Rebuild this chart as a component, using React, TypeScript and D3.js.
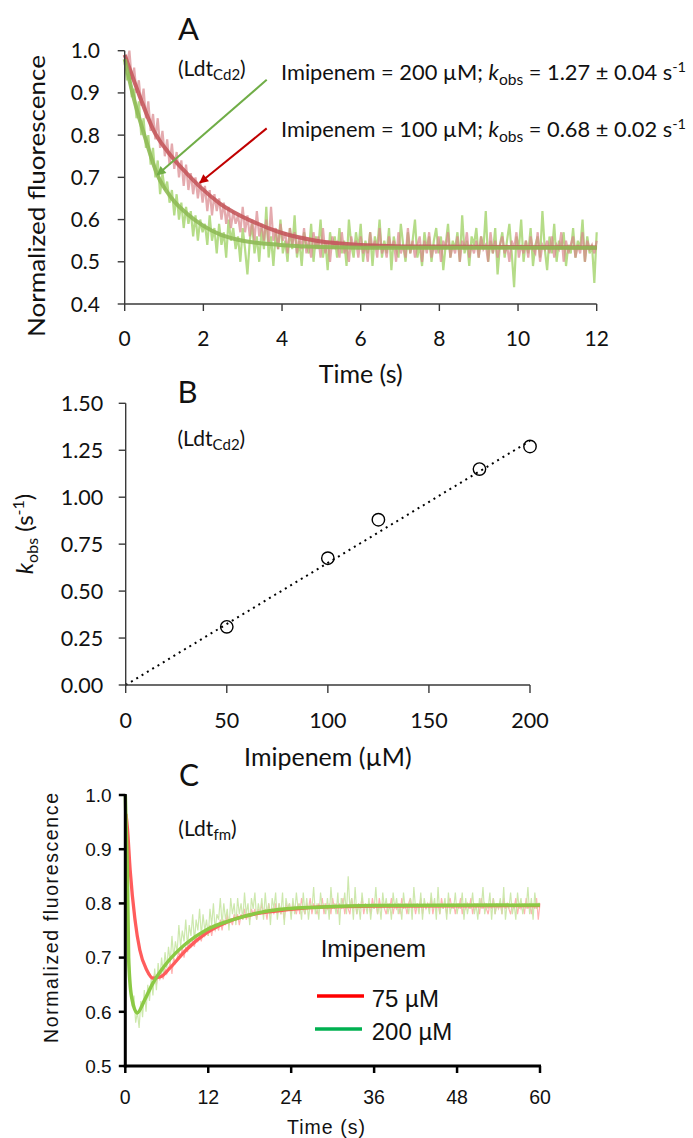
import React from "react";
import * as d3 from "d3";

const width = 693;
const height = 1138;
const fontA = "Lato, 'Open Sans', sans-serif";
const fontC = "'Liberation Sans', Arial, sans-serif";

// ---- panel A: LdtCd2 stopped-flow traces (0..12 s, one sample every 0.06 s)
const aTicksX = [0, 2, 4, 6, 8, 10, 12];
const aTicksY = [0.4, 0.5, 0.6, 0.7, 0.8, 0.9, 1.0];
const aStep = 0.06;
const aGreenRaw = [
  0.97, 0.93, 0.95, 0.89, 0.91, 0.84, 0.88, 0.80, 0.84, 0.77,
  0.80, 0.73, 0.77, 0.70, 0.74, 0.66, 0.71, 0.67, 0.69, 0.64,
  0.67, 0.61, 0.66, 0.60, 0.64, 0.58, 0.63, 0.59, 0.62, 0.56,
  0.61, 0.55, 0.60, 0.57, 0.59, 0.54, 0.61, 0.55, 0.58, 0.52,
  0.59, 0.54, 0.57, 0.51, 0.60, 0.55, 0.58, 0.53, 0.56, 0.50,
  0.58, 0.53, 0.47, 0.55, 0.59, 0.52, 0.56, 0.50, 0.58, 0.53,
  0.63, 0.51, 0.56, 0.49, 0.57, 0.53, 0.60, 0.52, 0.55, 0.50,
  0.58, 0.53, 0.61, 0.51, 0.55, 0.49, 0.57, 0.54, 0.52, 0.59,
  0.50, 0.56, 0.53, 0.60, 0.51, 0.55, 0.48, 0.57, 0.53, 0.56,
  0.51, 0.58, 0.52, 0.55, 0.49, 0.60, 0.54, 0.51, 0.57, 0.53,
  0.59, 0.50, 0.55, 0.52, 0.57, 0.49, 0.56, 0.53, 0.60, 0.51,
  0.55, 0.52, 0.58, 0.48, 0.56, 0.53, 0.51, 0.59, 0.54, 0.50,
  0.57, 0.52, 0.55, 0.60, 0.51, 0.54, 0.49, 0.57, 0.53, 0.56,
  0.50, 0.55, 0.58, 0.52, 0.56, 0.48, 0.54, 0.59, 0.51, 0.55,
  0.53, 0.57, 0.50, 0.61, 0.52, 0.55, 0.49, 0.56, 0.54, 0.58,
  0.51, 0.56, 0.53, 0.62, 0.50, 0.55, 0.52, 0.58, 0.47, 0.54,
  0.57, 0.51, 0.55, 0.59, 0.52, 0.44, 0.56, 0.53, 0.60, 0.50,
  0.55, 0.52, 0.58, 0.49, 0.54, 0.56, 0.51, 0.62, 0.53, 0.48,
  0.56, 0.52, 0.59, 0.50, 0.55, 0.53, 0.57, 0.49, 0.54, 0.52,
  0.58, 0.51, 0.55, 0.53, 0.60, 0.50, 0.56, 0.52, 0.54, 0.45,
  0.57,
];
const aRedRaw = [
  0.99, 0.97, 1.00, 0.93, 0.96, 0.90, 0.93, 0.87, 0.91, 0.84,
  0.88, 0.81, 0.85, 0.79, 0.84, 0.77, 0.81, 0.75, 0.79, 0.73,
  0.78, 0.72, 0.76, 0.70, 0.74, 0.68, 0.73, 0.67, 0.71, 0.66,
  0.70, 0.65, 0.69, 0.64, 0.68, 0.62, 0.67, 0.61, 0.66, 0.62,
  0.65, 0.60, 0.64, 0.59, 0.63, 0.58, 0.62, 0.59, 0.61, 0.57,
  0.63, 0.57, 0.61, 0.56, 0.60, 0.55, 0.62, 0.56, 0.59, 0.55,
  0.60, 0.54, 0.63, 0.55, 0.58, 0.53, 0.59, 0.55, 0.57, 0.52,
  0.58, 0.54, 0.57, 0.52, 0.56, 0.53, 0.58, 0.52, 0.55, 0.51,
  0.57, 0.53, 0.56, 0.51, 0.58, 0.52, 0.55, 0.50, 0.56, 0.53,
  0.55, 0.51, 0.57, 0.52, 0.54, 0.50, 0.56, 0.53, 0.55, 0.51,
  0.56, 0.52, 0.54, 0.50, 0.57, 0.53, 0.55, 0.51, 0.58, 0.52,
  0.54, 0.51, 0.56, 0.53, 0.55, 0.50, 0.57, 0.52, 0.54, 0.51,
  0.58, 0.52, 0.55, 0.51, 0.54, 0.56, 0.50, 0.55, 0.52, 0.57,
  0.51, 0.54, 0.52, 0.56, 0.50, 0.55, 0.53, 0.57, 0.51, 0.54,
  0.52, 0.56, 0.50, 0.55, 0.53, 0.57, 0.51, 0.54, 0.52, 0.55,
  0.51, 0.56, 0.53, 0.54, 0.50, 0.57, 0.52, 0.55, 0.51, 0.54,
  0.56, 0.52, 0.54, 0.50, 0.55, 0.53, 0.57, 0.51, 0.54, 0.52,
  0.55, 0.51, 0.56, 0.53, 0.52, 0.57, 0.50, 0.54, 0.53, 0.55,
  0.52, 0.56, 0.51, 0.54, 0.53, 0.57, 0.50, 0.55, 0.52, 0.54,
  0.56, 0.51, 0.54, 0.52, 0.57, 0.50, 0.55, 0.53, 0.54, 0.52,
  0.55,
];
// fitted single exponentials as [time, value]
const aGreenFit: [number, number][] = [
  [0, 0.98], [0.25, 0.88], [0.5, 0.8], [0.83, 0.706], [1.2, 0.65], [1.57, 0.615],
  [2.0, 0.585], [2.42, 0.565], [3.0, 0.55], [3.94, 0.54], [5, 0.535], [7, 0.533], [12, 0.533],
];
const aRedFit: [number, number][] = [
  [0, 0.99], [0.35, 0.9], [0.73, 0.812], [1.1, 0.76], [1.57, 0.71], [1.91, 0.678],
  [2.42, 0.638], [3.26, 0.595], [3.94, 0.57], [4.87, 0.55], [6.0, 0.54], [7.5, 0.536], [12, 0.534],
];
// arrows: [from, to] in data units
const aGreenArrow: [number, number][] = [[3.61, 0.931], [0.83, 0.706]];
const aRedArrow: [number, number][] = [[3.61, 0.816], [1.91, 0.687]];

// ---- panel B: kobs vs imipenem
const bTicksX = [0, 50, 100, 150, 200];
const bTicksY = [0, 0.25, 0.5, 0.75, 1.0, 1.25, 1.5];
const bConc = [50, 100, 125, 175, 200];
const bKobs = [0.31, 0.675, 0.88, 1.15, 1.27];
const bTrend: [number, number][] = [[0, 0], [200, 1.3]];

// ---- panel C: Ldtfm traces (0..60 s, one sample every 0.25 s)
const cTicksX = [0, 12, 24, 36, 48, 60];
const cTicksY = [0.5, 0.6, 0.7, 0.8, 0.9, 1.0];
const cStep = 0.25;
const cRedRaw = [
  0.93, 0.95, 0.90, 0.86, 0.82, 0.79, 0.77, 0.74,
  0.72, 0.71, 0.69, 0.69, 0.68, 0.67, 0.67, 0.66,
  0.66, 0.67, 0.65, 0.67, 0.66, 0.67, 0.66, 0.68,
  0.67, 0.68, 0.69, 0.67, 0.70, 0.69, 0.70, 0.71,
  0.70, 0.72, 0.70, 0.72, 0.71, 0.73, 0.72, 0.73,
  0.72, 0.74, 0.73, 0.74, 0.73, 0.75, 0.74, 0.75,
  0.74, 0.76, 0.74, 0.76, 0.75, 0.76, 0.75, 0.77,
  0.75, 0.77, 0.76, 0.78, 0.76, 0.77, 0.76, 0.78,
  0.77, 0.78, 0.76, 0.78, 0.77, 0.79, 0.77, 0.78,
  0.77, 0.79, 0.78, 0.79, 0.77, 0.79, 0.78, 0.80,
  0.78, 0.79, 0.77, 0.80, 0.78, 0.79, 0.78, 0.80,
  0.78, 0.80, 0.78, 0.79, 0.77, 0.80, 0.79, 0.80,
  0.78, 0.80, 0.79, 0.78, 0.80, 0.78, 0.81, 0.79,
  0.78, 0.80, 0.79, 0.81, 0.78, 0.80, 0.79, 0.78,
  0.80, 0.79, 0.81, 0.78, 0.80, 0.79, 0.80, 0.78,
  0.81, 0.79, 0.80, 0.78, 0.80, 0.79, 0.81, 0.78,
  0.80, 0.79, 0.78, 0.81, 0.79, 0.80, 0.78, 0.80,
  0.79, 0.81, 0.78, 0.80, 0.79, 0.80, 0.78, 0.81,
  0.79, 0.80, 0.78, 0.81, 0.79, 0.80, 0.79, 0.78,
  0.80, 0.79, 0.81, 0.78, 0.80, 0.79, 0.80, 0.78,
  0.81, 0.79, 0.80, 0.78, 0.80, 0.81, 0.79, 0.80,
  0.78, 0.80, 0.79, 0.81, 0.78, 0.80, 0.79, 0.80,
  0.79, 0.81, 0.78, 0.80, 0.79, 0.80, 0.78, 0.81,
  0.79, 0.80, 0.78, 0.80, 0.81, 0.79, 0.80, 0.78,
  0.80, 0.79, 0.81, 0.78, 0.80, 0.79, 0.80, 0.79,
  0.81, 0.78, 0.80, 0.79, 0.80, 0.78, 0.81, 0.79,
  0.80, 0.79, 0.78, 0.80, 0.79, 0.81, 0.78, 0.80,
  0.79, 0.80, 0.78, 0.81, 0.79, 0.80, 0.79, 0.78,
  0.80, 0.79, 0.81, 0.78, 0.80, 0.79, 0.80, 0.78,
  0.81, 0.79, 0.80, 0.78, 0.80, 0.79, 0.81, 0.77,
  0.80,
];
const cGreenRaw = [
  0.99, 0.86, 0.71, 0.65, 0.61, 0.63, 0.58, 0.60,
  0.57, 0.62, 0.59, 0.64, 0.60, 0.65, 0.62, 0.66,
  0.63, 0.68, 0.64, 0.69, 0.66, 0.70, 0.67, 0.71,
  0.68, 0.72, 0.69, 0.74, 0.70, 0.73, 0.71, 0.76,
  0.72, 0.75, 0.73, 0.77, 0.72, 0.76, 0.74, 0.78,
  0.73, 0.77, 0.75, 0.79, 0.74, 0.78, 0.75, 0.77,
  0.74, 0.79, 0.76, 0.80, 0.75, 0.78, 0.77, 0.81,
  0.76, 0.80, 0.77, 0.79, 0.75, 0.81, 0.78, 0.80,
  0.76, 0.81, 0.78, 0.80, 0.77, 0.82, 0.78, 0.80,
  0.76, 0.81, 0.79, 0.82, 0.77, 0.80, 0.78, 0.81,
  0.77, 0.82, 0.78, 0.80, 0.76, 0.81, 0.79, 0.82,
  0.77, 0.80, 0.78, 0.82, 0.76, 0.81, 0.79, 0.80,
  0.77, 0.81, 0.78, 0.82, 0.79, 0.80, 0.77, 0.82,
  0.78, 0.81, 0.77, 0.80, 0.79, 0.83, 0.78, 0.80,
  0.77, 0.82, 0.79, 0.80, 0.78, 0.81, 0.77, 0.83,
  0.79, 0.80, 0.78, 0.82, 0.76, 0.81, 0.79, 0.82,
  0.78, 0.85, 0.79, 0.81, 0.77, 0.83, 0.78, 0.80,
  0.77, 0.82, 0.79, 0.80, 0.78, 0.81, 0.77, 0.80,
  0.79, 0.83, 0.78, 0.80, 0.77, 0.82, 0.79, 0.81,
  0.78, 0.80, 0.77, 0.82, 0.79, 0.81, 0.78, 0.80,
  0.77, 0.82, 0.79, 0.80, 0.78, 0.81, 0.77, 0.83,
  0.79, 0.80, 0.78, 0.82, 0.77, 0.81, 0.79, 0.80,
  0.78, 0.82, 0.79, 0.81, 0.77, 0.83, 0.78, 0.80,
  0.79, 0.81, 0.77, 0.82, 0.78, 0.80, 0.79, 0.82,
  0.78, 0.80, 0.79, 0.82, 0.77, 0.81, 0.78, 0.80,
  0.79, 0.82, 0.78, 0.80, 0.77, 0.81, 0.79, 0.83,
  0.78, 0.80, 0.79, 0.82, 0.77, 0.81, 0.78, 0.80,
  0.79, 0.81, 0.78, 0.83, 0.77, 0.80, 0.79, 0.82,
  0.78, 0.80, 0.77, 0.82, 0.79, 0.81, 0.78, 0.80,
  0.79, 0.83, 0.78, 0.81, 0.77, 0.82, 0.79, 0.80,
  0.80,
];
const cRedFit: [number, number][] = [
  [0.1, 0.965], [0.3, 0.94], [0.7, 0.862], [1.4, 0.77], [2.1, 0.714], [3.1, 0.677], [4.0, 0.662],
  [5.2, 0.665], [6.4, 0.68], [8.8, 0.714], [11.7, 0.745], [15.6, 0.77], [19.4, 0.782],
  [23.3, 0.788], [27.8, 0.793], [36, 0.795], [60, 0.796],
];
const cGreenFit: [number, number][] = [
  [0, 1.0], [0.15, 0.93], [0.3, 0.86], [0.48, 0.7], [0.9, 0.628], [1.73, 0.598], [2.8, 0.622],
  [4.0, 0.653], [6.0, 0.69], [8.8, 0.726], [11.7, 0.751], [15.6, 0.77], [19.4, 0.783],
  [23.3, 0.79], [27.8, 0.793], [36, 0.796], [60, 0.797],
];
const cLegend = [
  { label: "75 µM", color: "#ff0000" },
  { label: "200 µM", color: "#00b050" },
];

const asPoints = (vals: number[], step: number): [number, number][] =>
  vals.map((v, i) => [i * step, v]);

const App = () => {
  // scales
  const ax = d3.scaleLinear().domain([0, 12]).range([124.7, 596.7]);
  const ay = d3.scaleLinear().domain([0.4, 1.0]).range([304, 50.7]);
  const bx = d3.scaleLinear().domain([0, 200]).range([125.7, 530]);
  const by = d3.scaleLinear().domain([0, 1.5]).range([685, 403.3]);
  const cx = d3.scaleLinear().domain([0, 60]).range([125.3, 540]);
  const cy = d3.scaleLinear().domain([0.5, 1.0]).range([1066, 795]);

  const aRawLine = d3.line<[number, number]>().x(d => ax(d[0])).y(d => ay(d[1]));
  const aFitLine = d3.line<[number, number]>().x(d => ax(d[0])).y(d => ay(d[1])).curve(d3.curveMonotoneX);
  const bLine = d3.line<[number, number]>().x(d => bx(d[0])).y(d => by(d[1]));
  const cRawLine = d3.line<[number, number]>().x(d => cx(d[0])).y(d => cy(d[1]));
  const cFitLine = d3.line<[number, number]>().x(d => cx(d[0])).y(d => cy(d[1])).curve(d3.curveMonotoneX);

  const axisCol = "#3a3a3a";

  return (
    <svg width={width} height={height} style={{ position: "absolute", left: 0, top: 0, background: "#fff" }}>
      <defs>
        <marker id="headG" viewBox="0 0 10 10" refX="9" refY="5" markerWidth="5.5" markerHeight="4.5" orient="auto" markerUnits="strokeWidth">
          <path d="M0,0 L10,5 L0,10 z" fill="#70ad47" />
        </marker>
        <marker id="headR" viewBox="0 0 10 10" refX="9" refY="5" markerWidth="5.5" markerHeight="4.5" orient="auto" markerUnits="strokeWidth">
          <path d="M0,0 L10,5 L0,10 z" fill="#c00000" />
        </marker>
      </defs>

      {/* ================= A ================= */}
      <g fontFamily={fontA} fill="#111">
        <path d={aRawLine(asPoints(aGreenRaw, aStep)) || ""} fill="none" stroke="#b5dc88" strokeWidth={2.2} />
        <path d={aRawLine(asPoints(aRedRaw, aStep)) || ""} fill="none" stroke="#d9868b" strokeWidth={2.2} opacity={0.7} />
        <path d={aFitLine(aRedFit) || ""} fill="none" stroke="#c4585c" strokeWidth={4} opacity={0.9} />
        <path d={aFitLine(aGreenFit) || ""} fill="none" stroke="#8fba56" strokeWidth={4} opacity={0.9} />

        <line x1={ax(0)} x2={ax(0)} y1={ay(1.0)} y2={ay(0.4)} stroke={axisCol} strokeWidth={1.4} />
        <line x1={ax(0)} x2={ax(12)} y1={ay(0.4)} y2={ay(0.4)} stroke={axisCol} strokeWidth={1.4} />
        {aTicksY.map(v => (
          <g key={v}>
            <line x1={ax(0) - 7} x2={ax(0)} y1={ay(v)} y2={ay(v)} stroke={axisCol} strokeWidth={1.4} />
            <text x={100} y={ay(v) + 7.5} fontSize={21} textAnchor="end">{v.toFixed(1)}</text>
          </g>
        ))}
        {aTicksX.map(v => (
          <g key={v}>
            <line x1={ax(v)} x2={ax(v)} y1={ay(0.4)} y2={ay(0.4) + 7} stroke={axisCol} strokeWidth={1.4} />
            <text x={ax(v)} y={346} fontSize={21} textAnchor="middle">{v}</text>
          </g>
        ))}
        <text x={(ax(0) + ax(12)) / 2} y={383} fontSize={25} textAnchor="middle">Time (s)</text>
        <text transform="translate(45,196) rotate(-90)" fontSize={23} textAnchor="middle" textLength={282} lengthAdjust="spacingAndGlyphs">Normalized fluorescence</text>
        <text x={178} y={39.5} fontSize={31}>A</text>
        <text x={178} y={75.5} fontSize={21}>(Ldt<tspan fontSize={15} dy={4}>Cd2</tspan><tspan dy={-4}>)</tspan></text>

        <path d={aRawLine(aGreenArrow) || ""} stroke="#70ad47" strokeWidth={2} fill="none" markerEnd="url(#headG)" />
        <path d={aRawLine(aRedArrow) || ""} stroke="#c00000" strokeWidth={2} fill="none" markerEnd="url(#headR)" />
        <text x={281} y={80} fontSize={21} textLength={405} lengthAdjust="spacingAndGlyphs">
          Imipenem = 200 µM; <tspan fontStyle="italic">k</tspan><tspan fontSize={15} dy={5}>obs</tspan><tspan dy={-5}> = 1.27 ± 0.04 s</tspan><tspan fontSize={14} dy={-8}>-1</tspan>
        </text>
        <text x={281} y={136.7} fontSize={21} textLength={405} lengthAdjust="spacingAndGlyphs">
          Imipenem = 100 µM; <tspan fontStyle="italic">k</tspan><tspan fontSize={15} dy={5}>obs</tspan><tspan dy={-5}> = 0.68 ± 0.02 s</tspan><tspan fontSize={14} dy={-8}>-1</tspan>
        </text>
      </g>

      {/* ================= B ================= */}
      <g fontFamily={fontA} fill="#111">
        <path d={bLine(bTrend) || ""} stroke="#000" strokeWidth={2} strokeDasharray="2 4.2" fill="none" />
        {bConc.map((c, i) => (
          <circle key={c} cx={bx(c)} cy={by(bKobs[i])} r={6.2} fill="none" stroke="#000" strokeWidth={1.4} />
        ))}
        <line x1={bx(0)} x2={bx(0)} y1={by(1.5)} y2={by(0)} stroke={axisCol} strokeWidth={1.4} />
        <line x1={bx(0)} x2={bx(200)} y1={by(0)} y2={by(0)} stroke={axisCol} strokeWidth={1.4} />
        {bTicksY.map(v => (
          <g key={v}>
            <line x1={bx(0) - 7} x2={bx(0)} y1={by(v)} y2={by(v)} stroke={axisCol} strokeWidth={1.4} />
            <text x={103.3} y={by(v) + 7.7} fontSize={21.5} textAnchor="end">{v.toFixed(2)}</text>
          </g>
        ))}
        {bTicksX.map(v => (
          <g key={v}>
            <line x1={bx(v)} x2={bx(v)} y1={by(0)} y2={by(0) + 8} stroke={axisCol} strokeWidth={1.4} />
            <text x={bx(v)} y={728} fontSize={21.5} textAnchor="middle">{v}</text>
          </g>
        ))}
        <text x={(bx(0) + bx(200)) / 2} y={766} fontSize={25} textAnchor="middle">Imipenem (µM)</text>
        <text transform="translate(33,534) rotate(-90)" fontSize={24} textAnchor="middle">
          <tspan fontStyle="italic">k</tspan><tspan fontSize={16} dy={5}>obs</tspan><tspan dy={-5}> (s</tspan><tspan fontSize={16} dy={-9}>-1</tspan><tspan dy={9}>)</tspan>
        </text>
        <text x={177.5} y={403.3} fontSize={31}>B</text>
        <text x={177.5} y={446} fontSize={21}>(Ldt<tspan fontSize={15} dy={4}>Cd2</tspan><tspan dy={-4}>)</tspan></text>
      </g>

      {/* ================= C ================= */}
      <g fontFamily={fontC} fill="#111">
        <path d={cRawLine(asPoints(cRedRaw, cStep)) || ""} fill="none" stroke="#ffb3b3" strokeWidth={1.2} />
        <path d={cRawLine(asPoints(cGreenRaw, cStep)) || ""} fill="none" stroke="#c8e6a4" strokeWidth={1.2} opacity={0.9} />
        <path d={cFitLine(cRedFit) || ""} fill="none" stroke="#ff5c5c" strokeWidth={3.3} />
        <path d={cFitLine(cGreenFit) || ""} fill="none" stroke="#8bc944" strokeWidth={3.5} />

        <line x1={cx(0)} x2={cx(0)} y1={cy(1.0) - 1} y2={cy(0.5) + 1.5} stroke="#000" strokeWidth={3} />
        <line x1={cx(0) - 1.5} x2={cx(60) + 1} y1={cy(0.5)} y2={cy(0.5)} stroke="#000" strokeWidth={3} />
        {cTicksY.map(v => (
          <g key={v}>
            <line x1={cx(0) - 6.5} x2={cx(0)} y1={cy(v)} y2={cy(v)} stroke="#000" strokeWidth={2.5} />
            <text x={111.7} y={cy(v) + 6.8} fontSize={19} textAnchor="end">{v.toFixed(1)}</text>
          </g>
        ))}
        {cTicksX.map(v => (
          <g key={v}>
            <line x1={cx(v)} x2={cx(v)} y1={cy(0.5)} y2={cy(0.5) + 7} stroke="#000" strokeWidth={2.5} />
            <text x={cx(v)} y={1103.5} fontSize={19.5} textAnchor="middle">{v}</text>
          </g>
        ))}
        <text x={326} y={1133.5} fontSize={19.5} textAnchor="middle" textLength={78} lengthAdjust="spacing">Time (s)</text>
        <text transform="translate(58,918) rotate(-90)" fontSize={19.5} textAnchor="middle" textLength={250} lengthAdjust="spacing">Normalized fluorescence</text>
        <text x={179} y={786} fontSize={30} fontFamily={fontA}>C</text>
        <text x={178.3} y={836} fontSize={21} fontFamily={fontA}>(Ldt<tspan fontSize={15} dy={4}>fm</tspan><tspan dy={-4}>)</tspan></text>

        <text x={320.7} y={957} fontSize={24}>Imipenem</text>
        {cLegend.map((d, i) => (
          <g key={d.label} transform={`translate(0,${i * 33})`}>
            <line x1={317 - i * 2} x2={364 - i * 2} y1={996} y2={996} stroke={d.color} strokeWidth={3.5} />
            <text x={371.7} y={1007} fontSize={24}>{d.label}</text>
          </g>
        ))}
      </g>
    </svg>
  );
};

export default App;
